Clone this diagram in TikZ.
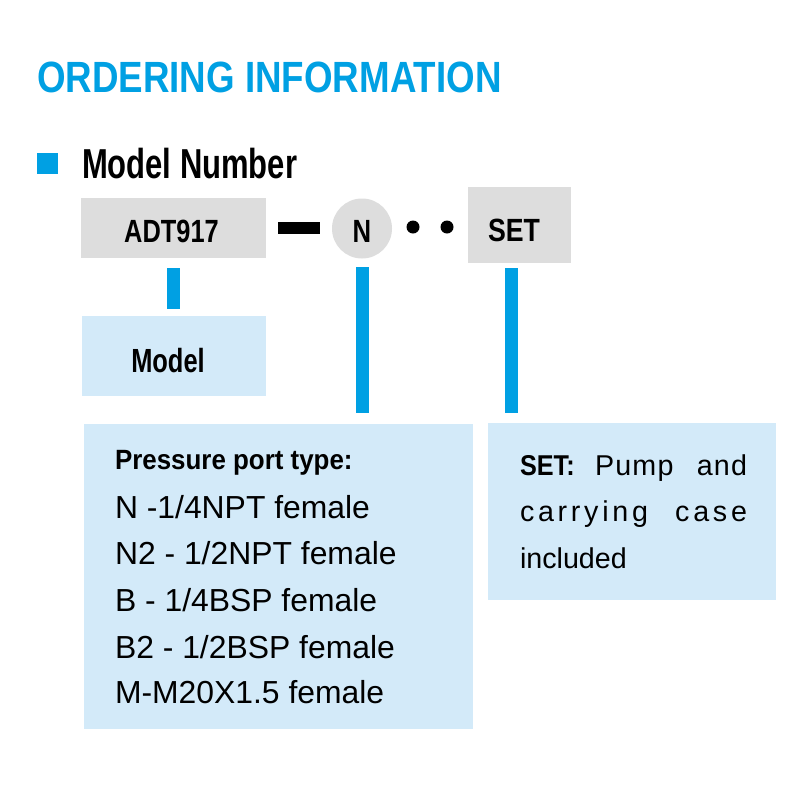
\documentclass[tikz,border=0pt]{standalone}
\usepackage{fontspec}
\setmainfont{Liberation Sans}
\usetikzlibrary{fit}
\definecolor{hblue}{RGB}{0,160,227}
\definecolor{lblue}{RGB}{211,234,249}
\definecolor{lgray}{RGB}{221,221,221}
\newcommand\sx[2]{\scalebox{#1}[1]{#2}}
\begin{document}
\begin{tikzpicture}[x=0.75pt,y=-0.75pt,
  txt/.style={inner sep=0pt, outer sep=0pt, anchor=base west},
  ctxt/.style={inner sep=0pt, outer sep=0pt, anchor=base},
  graybox/.style={fill=lgray, inner sep=0pt, outer sep=0pt},
  bluebox/.style={fill=lblue, inner sep=0pt, outer sep=0pt},
  bar/.style={draw=hblue, line width=9.75pt},
  bigbold/.style={font=\fontsize{24.1pt}{28pt}\selectfont\bfseries},
  listfont/.style={font=\fontsize{23.9pt}{28pt}\selectfont},
  setfont/.style={font=\fontsize{21.5pt}{26pt}\selectfont},
  dot/.style={circle, fill=black, inner sep=0pt, minimum size=9.75pt},
]
\path[use as bounding box, fill=white] (0,0) rectangle (800,800);

% heading
\node[txt, text=hblue, font=\fontsize{32.8pt}{36pt}\selectfont\bfseries] (title) at (37,92) {\sx{0.84}{ORDERING INFORMATION}};
\node[fill=hblue, inner sep=0pt, minimum size=15.75pt] (sq) at (47.5,163.5) {};
\node[txt, font=\fontsize{31.4pt}{36pt}\selectfont\bfseries] (mn) at (82,178) {\sx{0.74}{Model Number}};

% model number row
\node[graybox, fit={(81,198) (266,258)}] (adt) {};
\node[ctxt, bigbold] (adtt) at (171.5,242) {\sx{0.79}{ADT917}};
\node[circle, fill=lgray, inner sep=0pt, minimum size=45pt] (n) at (362,228.5) {};
\node[ctxt, bigbold] (nt) at (362,242) {\sx{0.8}{N}};
\node[dot] (d1) at (413,227) {};
\node[dot] (d2) at (447,227) {};
\node[graybox, fit={(468,187) (571,263)}] (set) {};
\node[ctxt, bigbold] (sett) at (514,241) {\sx{0.83}{SET}};
\draw[line width=9pt, shorten <=9pt, shorten >=9pt] (adt.east) -- (adt.east -| n.west);

% description boxes
\node[bluebox, fit={(82,316) (266,396)}] (model) {};
\node[ctxt, font=\fontsize{25.1pt}{30pt}\selectfont\bfseries] (modelt) at (168,372) {\sx{0.76}{Model}};
\node[bluebox, fit={(84,424) (473,729)}] (press) {};
\node[bluebox, fit={(488,423) (776,600)}] (setd) {};

% connectors
\draw[bar, shorten <=7.5pt, shorten >=5.25pt] (adt.south) -- (adt.south |- model.north);
\draw[bar, shorten <=6.4pt, shorten >=8.25pt] (n.south) -- (n.south |- press.north);
\draw[bar, shorten <=3.75pt, shorten >=7.5pt] ([xshift=-6pt]set.south) -- ([xshift=-6pt]set.south |- setd.north);

% pressure port text
\node[txt, font=\fontsize{20.9pt}{24pt}\selectfont\bfseries] (p0) at (115,469) {\sx{0.93}{Pressure port type:}};
\node[txt, listfont] (p1) at (115,518) {N -1/4NPT female};
\node[txt, listfont] (p2) at (115,564) {N2 - 1/2NPT female};
\node[txt, listfont] (p3) at (115,611) {B - 1/4BSP female};
\node[txt, listfont] (p4) at (115,658) {B2 - 1/2BSP female};
\node[txt, listfont] (p5) at (115,703) {M-M20X1.5 female};

% set text
\node[txt, setfont] (s1) at (520,475) {\makebox[170.25pt][s]{\textbf{\sx{0.88}{SET:}} \addfontfeature{LetterSpace=4}Pump and}};
\node[txt, setfont] (s2) at (520,521) {\makebox[170.25pt][s]{\addfontfeature{LetterSpace=13}carrying case}};
\node[txt, setfont] (s3) at (520,568) {included};
\end{tikzpicture}
\end{document}
